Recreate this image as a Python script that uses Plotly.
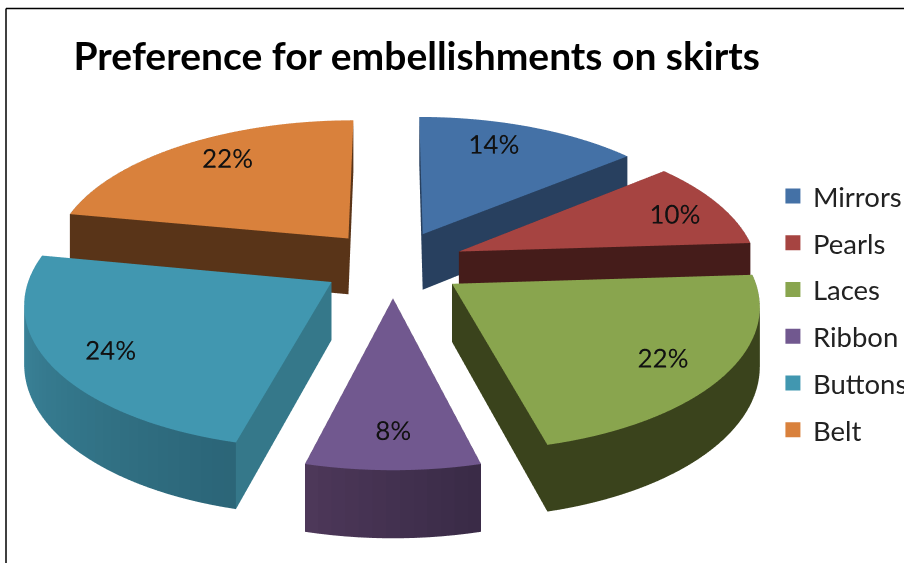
import numpy as np
import plotly.graph_objects as go

categories = ["Mirrors", "Pearls", "Laces", "Ribbon", "Buttons", "Belt"]
values = [14, 10, 22, 8, 24, 22]
labels = ["14%", "10%", "22%", "8%", "24%", "22%"]
top_colors = ["#4471A6", "#A64441", "#89A54E", "#71588F", "#4197B0", "#D9813C"]
cut_a_colors = ["#28405F", "#451C1A", "#3A431C", "#3C2A48", "#35788A", "#593418"]
cut_b_colors = ["#28405F", "#451C1A", "#3A431C", "#3C2A48", "#35788A", "#593418"]
arc_from = ["#28405F", "#451C1A", "#3A431C", "#3A2B47", "#2C6678", "#593418"]
arc_to = ["#28405F", "#451C1A", "#3A431C", "#4D3859", "#3F8DA4", "#593418"]

EXPLODE = 0.24
HEIGHT = 0.22
WARP = 0.13
LABEL_R = [0.82, 0.83, 0.79, 0.78, 0.80, 0.82]
LABEL_DTH = [-4, 0, 0, 0, 0, 4]
LABEL_LIFT = 0.27
ZOOM = 3.18


def hex2rgb(c):
    return np.array([int(c[i:i + 2], 16) for i in (1, 3, 5)], float)


def rgb(a):
    return "rgb(%d,%d,%d)" % tuple(a)


def warp(x, y, z):
    p = 1 / (1 + WARP * np.asarray(y))
    return np.asarray(x) * p, np.asarray(y) * p, np.asarray(z) * p


def slice_mesh(a0, a1, top, cut_a, cut_b, c_from, c_to):
    n = max(6, int((a1 - a0) / np.radians(2)))
    th = np.linspace(a0, a1, n)
    mid = (a0 + a1) / 2
    ox, oy = EXPLODE * np.sin(mid), EXPLODE * np.cos(mid)
    xs = np.r_[ox, ox + np.sin(th), ox, ox + np.sin(th)]
    ys = np.r_[oy, oy + np.cos(th), oy, oy + np.cos(th)]
    zs = np.r_[np.full(n + 1, HEIGHT), np.zeros(n + 1)]
    xs, ys, zs = warp(xs, ys, zs)
    i, j, k, fc = [], [], [], []
    cf, ct = hex2rgb(c_from), hex2rgb(c_to)
    b = n + 1
    for m in range(n - 1):
        t = m / (n - 2)
        i += [0]; j += [m + 1]; k += [m + 2]; fc.append(top)
        col = rgb(cf + (ct - cf) * t)
        i += [m + 1, m + 2]; j += [m + 2, b + m + 2]; k += [b + m + 1, b + m + 1]
        fc += [col, col]
    i += [0, 1]; j += [1, b + 1]; k += [b, b]; fc += [cut_a, cut_a]
    i += [0, n]; j += [n, b + n]; k += [b, b]; fc += [cut_b, cut_b]
    return xs, ys, zs, i, j, k, fc


fig = go.Figure()
total = sum(values)
edges = np.cumsum([0] + values) / total * 2 * np.pi
tx, ty, tz = [], [], []
for s, name in enumerate(categories):
    x, y, z, i, j, k, fc = slice_mesh(edges[s], edges[s + 1], top_colors[s], cut_a_colors[s],
                                      cut_b_colors[s], arc_from[s], arc_to[s])
    fig.add_trace(go.Mesh3d(x=x, y=y, z=z, i=i, j=j, k=k, facecolor=fc, flatshading=True,
                            lighting=dict(ambient=1, diffuse=0, specular=0, fresnel=0, roughness=1),
                            hoverinfo="skip", showscale=False, showlegend=False))
    mid = (edges[s] + edges[s + 1]) / 2
    r = EXPLODE + LABEL_R[s]
    la = mid + np.radians(LABEL_DTH[s])
    lx, ly, lz = warp(r * np.sin(la), r * np.cos(la), HEIGHT + 0.005)
    tx.append(float(lx)); ty.append(float(ly) - LABEL_LIFT); tz.append(float(lz))
    fig.add_trace(go.Scatter(x=[None], y=[None], mode="markers", name=name, legendgroup=name,
                             marker=dict(symbol="square", size=15, color=top_colors[s])))

fig.add_trace(go.Scatter3d(x=tx, y=ty, z=tz, mode="text", text=labels, showlegend=False, textposition="top center",
                           textfont=dict(family="Lato", size=26, color="#111111"), hoverinfo="skip"))

hidden = dict(visible=False, showgrid=False, zeroline=False, showticklabels=False, title="", showbackground=False, showspikes=False)
ZMIN, ZMAX = -0.1, HEIGHT + 0.2
RNG = 1.7
CZ = -0.009
fig.update_layout(
    width=904, height=563,
    margin=dict(l=0, r=0, t=0, b=0, autoexpand=False),
    paper_bgcolor="white", plot_bgcolor="white",
    title=dict(text="<b>Preference for embellishments on skirts</b>", x=0.461, xanchor="center",
               y=0.9, yanchor="middle", font=dict(family="Lato", size=39, color="black")),
    scene=dict(
        domain=dict(x=[0, 0.87], y=[0, 1]),
        xaxis=dict(hidden, range=[-RNG, RNG]), yaxis=dict(hidden, range=[-RNG, RNG]),
        zaxis=dict(hidden, range=[ZMIN, ZMAX]),
        aspectmode="manual",
        aspectratio=dict(x=ZOOM * RNG / 1.5, y=ZOOM * RNG / 1.5, z=ZOOM * (ZMAX - ZMIN) / 3.0),
        camera=dict(eye=dict(x=0, y=-3.0, z=CZ + 1.7), up=dict(x=0, y=0, z=1), center=dict(x=0, y=0, z=CZ),
                    projection=dict(type="orthographic")),
    ),
    xaxis=dict(visible=False), yaxis=dict(visible=False),
    legend=dict(x=0.855, y=0.695, xanchor="left", yanchor="top", font=dict(family="Lato", size=27.5, color="#222222"),
                tracegroupgap=8, itemclick=False, itemdoubleclick=False, bgcolor="rgba(0,0,0,0)"),
    shapes=[
        dict(type="line", xref="paper", yref="paper", x0=6 / 904, x1=1, y0=1 - 8.5 / 563, y1=1 - 8.5 / 563,
             line=dict(color="black", width=1.5)),
        dict(type="line", xref="paper", yref="paper", x0=6 / 904, x1=6 / 904, y0=0, y1=1 - 8.5 / 563,
             line=dict(color="black", width=1.5)),
    ],
    showlegend=True,
)
fig.write_html("out.html", post_script="document.body.style.margin='0';", config=dict(displayModeBar=False))
